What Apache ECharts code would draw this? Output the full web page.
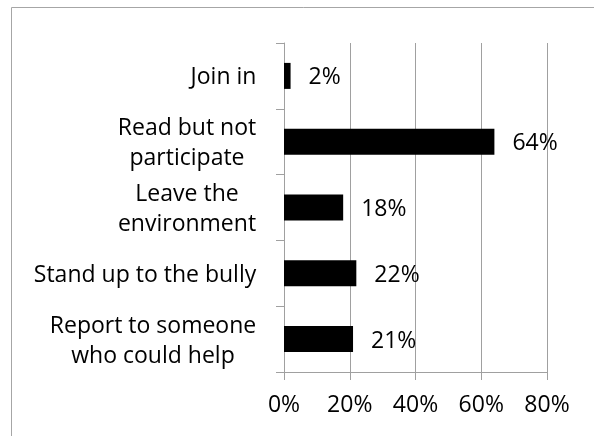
<!DOCTYPE html>
<html><head><meta charset="utf-8">
<script src="https://cdn.jsdelivr.net/npm/echarts@6/dist/echarts.min.js"></script>
<style>html,body{margin:0;padding:0;background:#fff}#c{width:594px;height:436px}</style>
</head><body><div id="c"></div>
<script>
const categories = ["Join in", "Read but not\nparticipate", "Leave the\nenvironment", "Stand up to the bully", "Report to someone\nwho could help"];
const values = [2, 64, 18, 22, 21];
const xTicks = [0, 20, 40, 60, 80];

const font = 'Open Sans';
const fs = 23;
const cv = document.createElement('canvas').getContext('2d');
cv.font = fs + 'px ' + font;
const rich = {};
categories.forEach((c, i) => {
  const w = Math.max(...c.split('\n').map(l => cv.measureText(l).width));
  rich['r' + i] = {width: Math.ceil(w) + 1, align: 'center', fontFamily: font, fontSize: fs, color: '#000', lineHeight: 30};
});

const chart = echarts.init(document.getElementById('c'));
chart.setOption({
  animation: false,
  graphic: [{type: 'rect', shape: {x: 11.5, y: 7.5, width: 600, height: 500}, style: {fill: 'none', stroke: '#a6a6a6', lineWidth: 1}, silent: true}],
  grid: {left: 284, right: 47, top: 43, bottom: 64, containLabel: false},
  xAxis: {
    type: 'value', min: xTicks[0], max: xTicks[xTicks.length - 1], interval: 20,
    axisLine: {show: true, lineStyle: {color: '#a0a0a0', width: 1}},
    axisTick: {show: true, length: 8, lineStyle: {color: '#a0a0a0'}},
    splitLine: {show: true, lineStyle: {color: '#a0a0a0', width: 1}},
    axisLabel: {formatter: v => v + '%', fontFamily: font, fontSize: fs, color: '#000', margin: 22}
  },
  yAxis: {
    type: 'category', data: categories, inverse: true,
    axisLine: {show: true, lineStyle: {color: '#a0a0a0', width: 1}},
    axisTick: {show: true, length: 8, lineStyle: {color: '#a0a0a0'}},
    axisLabel: {
      formatter: (v, i) => v.split('\n').map(l => '{r' + i + '|' + l + '}').join('\n'),
      rich: rich, align: 'right', margin: 27, lineHeight: 30, fontFamily: font, fontSize: fs, color: '#000',
      padding: [4, 0, 0, 0]
    }
  },
  series: [{
    type: 'bar', data: values, barWidth: 26,
    itemStyle: {color: '#000'},
    label: {show: true, position: 'right', distance: 18, formatter: p => p.value + '%', fontFamily: font, fontSize: fs, color: '#000', offset: [0, 2]}
  }]
});
</script></body></html>
